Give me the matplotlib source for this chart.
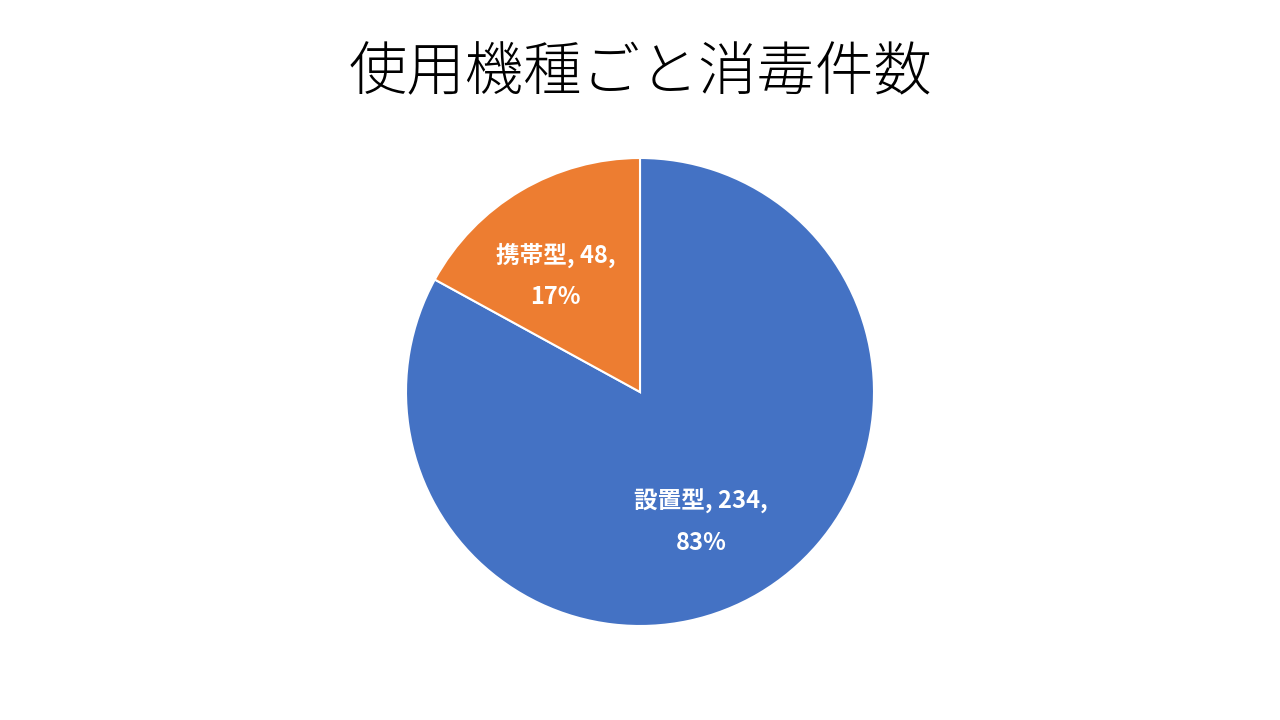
import numpy as np
import matplotlib.pyplot as plt

plt.rcParams['font.family'] = ['Noto Sans CJK JP', 'DejaVu Sans']

# データ
labels = ["設置型", "携帯型"]
counts = [234, 48]
colors = ["#4472C4", "#ED7D31"]
title = "使用機種ごと消毒件数"

fig = plt.figure(figsize=(12.8, 7.2), dpi=100)
# 円の中心 (640, 392) px, 半径 234 px
ax = fig.add_axes([(640 - 234) / 1280, (328 - 234) / 720, 468 / 1280, 468 / 720])

total = sum(counts)

wedges, texts = ax.pie(counts, colors=colors, startangle=90, counterclock=False,
                       wedgeprops=dict(edgecolor="white", linewidth=1.5))

for w, lab, c in zip(wedges, labels, counts):
    ang = np.deg2rad((w.theta1 + w.theta2) / 2)
    r = 0.61
    pct = round(c / total * 100)
    ax.text(r * np.cos(ang) - 0.05, r * np.sin(ang) - 0.03, f"{lab}, {c},\n{pct}%",
            ha="center", va="center", color="white", fontsize=17,
            fontweight="bold", linespacing=1.9)

ax.set_xlim(-1, 1)
ax.set_ylim(-1, 1)
ax.set_aspect("equal")
ax.axis("off")

fig.text(0.5, 0.897, title, ha="center", va="center", fontsize=42,
         fontweight="light", color="#000000")

fig.savefig("out.png", dpi=100)
